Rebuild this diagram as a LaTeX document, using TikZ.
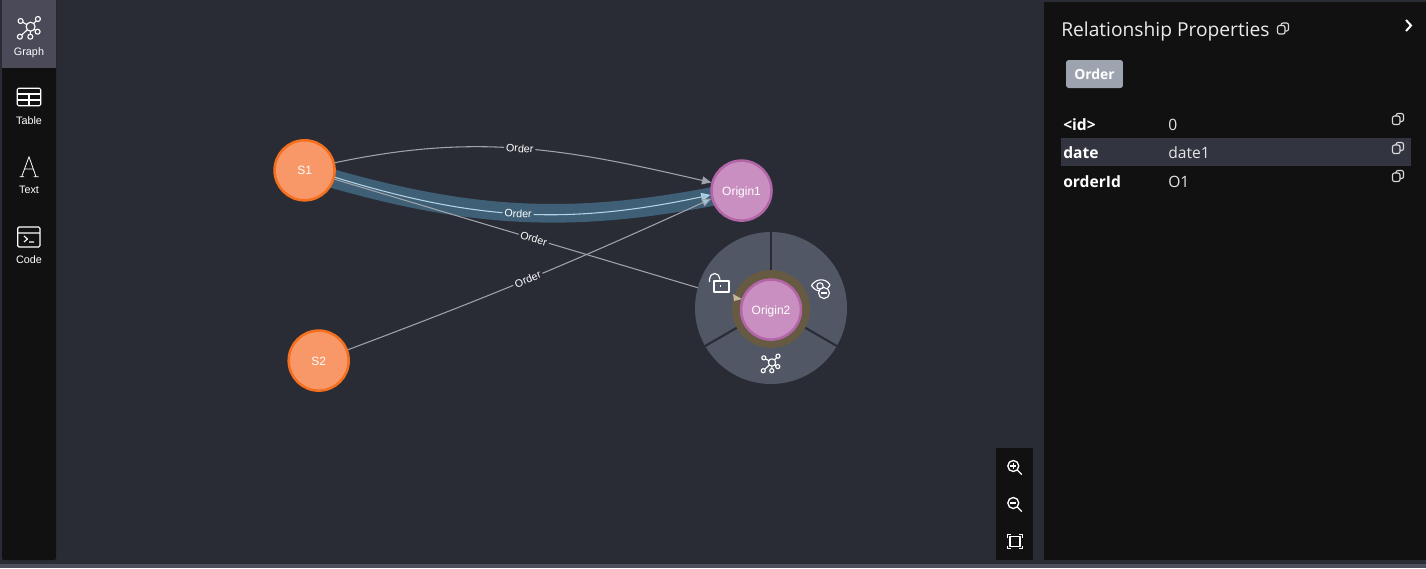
\documentclass[tikz,border=0pt]{standalone}
\usepackage{fontspec}
\setmainfont{Liberation Sans}
\newfontfamily\panelfont{Open Sans}
\usetikzlibrary{arrows.meta, backgrounds}

\definecolor{canvasbg}{HTML}{292C35}
\definecolor{panelbg}{HTML}{111111}
\definecolor{tabbg}{HTML}{4A4A58}
\definecolor{stripbg}{HTML}{4C4F5C}
\definecolor{rowbg}{HTML}{32353F}
\definecolor{badgebg}{HTML}{9EA3B0}
\definecolor{menubg}{HTML}{525766}
\definecolor{ringbg}{HTML}{665A42}
\definecolor{bandbg}{HTML}{3E5F75}
\definecolor{edgegrey}{HTML}{A0A3AB}
\definecolor{edgeblue}{HTML}{B5D3E6}
\definecolor{tipblue}{HTML}{9FC6DD}
\definecolor{tiptan}{HTML}{C4B896}
\definecolor{sourcefill}{HTML}{F89868}
\definecolor{sourceline}{HTML}{F4701F}
\definecolor{originfill}{HTML}{C98FC0}
\definecolor{originline}{HTML}{B266A8}

\tikzset{
    source/.style={circle, draw=sourceline, fill=sourcefill, line width=1.9pt, minimum size=45pt, inner sep=0pt, text=white, text height=6.6pt, text depth=0pt, font=\fontsize{9}{11}\selectfont},
    origin/.style={circle, draw=originline, fill=originfill, line width=1.9pt, minimum size=45pt, inner sep=0pt, text=white, text height=6.6pt, text depth=0pt, font=\fontsize{9}{11}\selectfont},
    edge/.style={draw=edgegrey, line width=.8pt, -{Triangle[length=7pt,width=6pt]}},
    rel/.style={sloped, inner sep=1.5pt, text=white, font=\fontsize{8}{9}\selectfont, fill=canvasbg},
    tablabel/.style={text=white, inner sep=0pt, font=\fontsize{8.1}{9.5}\selectfont},
    key/.style={anchor=base west, inner sep=0pt, text=white, font=\panelfont\bfseries\fontsize{11.7}{14}\selectfont},
    val/.style={anchor=base west, inner sep=0pt, text=white!90!black, font=\panelfont\fontsize{11.7}{14}\selectfont},
    icon/.style={draw=white, line width=.85pt, line join=round},
    copyicon/.pic={
        \draw[icon, draw=white!85!black, rounded corners=1.5pt] (-2,-5.5) rectangle (5.5,2.5);
        \draw[icon, draw=white!85!black, rounded corners=1.5pt, fill=\copyfill] (-5.5,-3) rectangle (2,5.5);
    },
    graphicon/.pic={
        \draw[icon] (0,0) -- (-10,-5.7) (0,0) -- (7.3,-7.7) (0,0) -- (7,5) (0,0) -- (-10.7,10) (0,0) -- (-.3,10);
        \foreach \px/\py in {-10/-5.7, 7.3/-7.7, 7/5, -10.7/10, -.3/10}
            \draw[icon, fill=\graphfill] (\px,\py) circle[radius=2.5];
        \draw[icon, fill=\graphfill] (0,0) circle[radius=4.5];
    },
    magnifier/.pic={
        \draw[icon, line width=1pt] (0,0) circle[radius=5.5] (4,4) -- (8.5,8.5);
        \draw[icon] (-3,0) -- (3,0);
    }
}
\pgfdeclarelayer{under}
\pgfsetlayers{background,under,main}

\begin{document}
\begin{tikzpicture}[x=.75pt, y=-.75pt]

    \useasboundingbox (0,0) rectangle (1426,568);

    % Frame
    \begin{pgfonlayer}{background}
        \fill[canvasbg] (0,0) rectangle (1426,568);
        \fill[stripbg] (0,564) rectangle (1426,568);
        \fill[panelbg, rounded corners=1.5pt] (2,-3) rectangle (56,560);
        \fill[tabbg] (2,0) rectangle (56,68);
        \fill[panelbg] (1044,2) rectangle (1426,560);
        \fill[panelbg] (996,448) rectangle (1033,560);
        \fill[rowbg] (1061,138) rectangle (1411,166);
    \end{pgfonlayer}

    % Nodes
    \node [source] (s1) at (304.6,170.3) {S1};
    \node [source] (s2) at (318.7,360.6) {S2};
    \node [origin] (origin1) at (741.5,190.6) {Origin1};

    % Menu
    \fill[menubg] (771,308) circle[radius=76];
    \foreach \a in {90,210,330}
        \draw[canvasbg, line width=1.6pt] (771,308) -- ++(\a:76 and -76);
    \fill[ringbg] (771,309) circle[radius=39];
    \node [origin] (origin2) at (771,309.6) {Origin2};
    \fill[tiptan] (733,294) -- (742,299) -- (734,301) -- cycle;

    % Edges
    \begin{pgfonlayer}{under}
        \draw[bandbg, line width=14pt] (s1.center) to[out=-17, in=192] (origin1.center);
        \draw[edge, -] (s1) -- node[rel, pos=.49] (order3) {Order} (origin2);
    \end{pgfonlayer}
    \path[edge] (s1.14) to[out=12, in=167] node[rel, pos=.49] (order1) {Order} (origin1.165);
    \path[edge, draw=edgeblue, -{Triangle[length=7pt,width=6pt,fill=tipblue]}] (s1.-13) to[out=-17, in=192] node[rel, pos=.49, fill=bandbg] (order2) {Order} (origin1.188);
    \path[edge, -{Triangle[length=7pt,width=6pt,fill=tipblue]}] (s2) to[bend right=2] node[rel, pos=.49] (order4) {Order} (origin1.195);

    % Side tabs
    \node [tablabel] (graphtab) at (29,52.5) {Graph};
    \node [tablabel] (tabletab) at (29,121) {Table};
    \node [tablabel] (texttab) at (29,190) {Text};
    \node [tablabel] (codetab) at (29,260) {Code};
    \def\graphfill{tabbg}
    \pic at (30.6,26.7) {graphicon};
    \draw[icon, rounded corners=1pt] (17.3,88.3) rectangle (40.7,105.7);
    \draw[icon] (17.3,94) -- (40.7,94) (17.3,100) -- (40.7,100) (29,94) -- (29,105.7);
    \draw[icon, line width=.6pt] (21.7,176.7) -- (29,156.7) -- (36,176.7) (24,169) -- (33.5,169) (19.5,176.7) -- (24,176.7) (33.5,176.7) -- (38.5,176.7);
    \draw[icon, rounded corners=1pt] (17.7,227) rectangle (40,247);
    \draw[icon] (17.7,233) -- (40,233) (24,236) -- (27.5,239) -- (24,242) (29,242) -- (34,242);

    % Menu icons
    \def\graphfill{menubg}
    \pic[scale=.82] at (772,362.5) {graphicon};
    \draw[icon] (714,281) rectangle (729,292);
    \draw[icon] (709.5,282) -- (709.5,279) arc[start angle=180, end angle=0, x radius=5.2, y radius=-5.5] -- (719.9,281);
    \draw[icon] (720.6,284.5) -- (720.6,287);
    \draw[icon] (811.5,285.5) .. controls (816,278) and (826,278) .. (830,285) .. controls (826,293) and (816,293) .. (811.5,285.5);
    \draw[icon] (820,286) circle[radius=3.2];
    \draw[icon, fill=menubg] (824,293) circle[radius=5.5];
    \draw[icon] (821,293) -- (827,293);

    % Zoom controls
    \pic at (1013.3,466) {magnifier};
    \pic at (1013.3,503) {magnifier};
    \draw[icon] (1013.3,463) -- (1013.3,469);
    \draw[icon, line width=1pt] (1010,536.5) rectangle (1020,546.5);
    \foreach \sx/\sy in {-1/-1, 1/-1, 1/1, -1/1}
        \draw[icon, line width=.7pt] (1015+7.3*\sx,541.5+4*\sy) -- (1015+7.3*\sx,541.5+7.3*\sy) -- (1015+4*\sx,541.5+7.3*\sy);

    % Properties
    \node [anchor=base west, inner sep=0pt, text=white!92!black, font=\panelfont\fontsize{14.4}{17}\selectfont] (title) at (1061,36) {Relationship Properties};
    \def\copyfill{panelbg}
    \pic at (1283,28.5) {copyicon};
    \draw[white, line width=1.5pt] (1406,20) -- (1411,25.5) -- (1406,31);
    \node [fill=badgebg, rounded corners=2pt, minimum width=42.7pt, minimum height=21pt, inner sep=0pt, text=white, font=\panelfont\bfseries\fontsize{10.4}{12}\selectfont] (badge) at (1094.5,74) {Order};
    \node [key] (idkey) at (1063,130) {<id>};
    \node [val] (idval) at (1168,130) {0};
    \node [key] (datekey) at (1063,158) {date};
    \node [val] (dateval) at (1168,158) {date1};
    \node [key] (orderkey) at (1063,187) {orderId};
    \node [val] (orderval) at (1168,187) {O1};
    \pic at (1398,119) {copyicon};
    \def\copyfill{rowbg}
    \pic at (1398,148) {copyicon};
    \def\copyfill{panelbg}
    \pic at (1398,176) {copyicon};

\end{tikzpicture}
\end{document}
